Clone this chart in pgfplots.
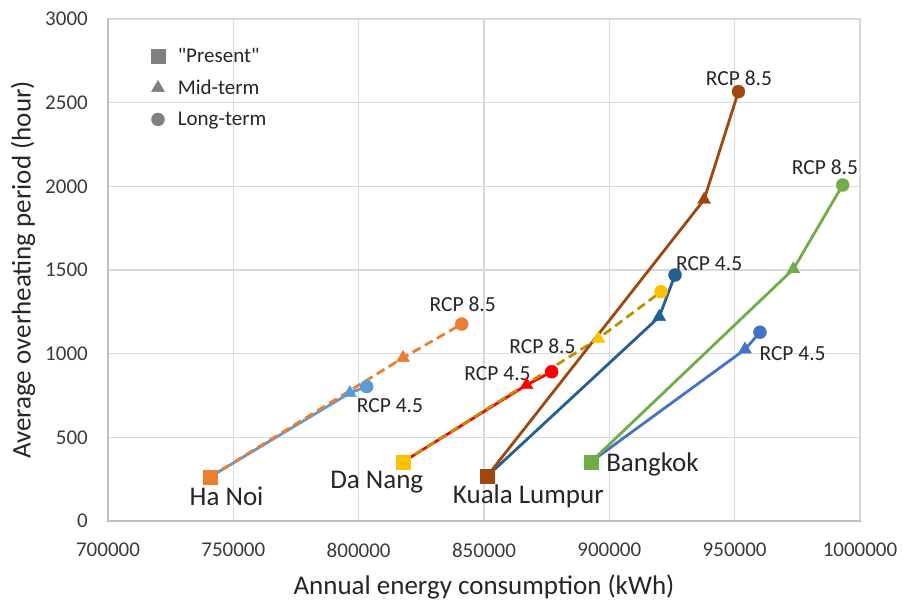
\documentclass[border=0pt]{standalone}
\usepackage{fontspec}
\setmainfont{Carlito}[Ligatures=TeXOff]
\usepackage{pgfplots}
\pgfplotsset{compat=1.18}
\definecolor{hn}{HTML}{ED7D31}
\definecolor{hnb}{HTML}{5B9BD5}
\definecolor{dn}{HTML}{FFC000}
\definecolor{dnd}{HTML}{BF9000}
\definecolor{dnr}{HTML}{FF0000}
\definecolor{kl}{HTML}{9E480E}
\definecolor{klb}{HTML}{255E91}
\definecolor{bk}{HTML}{70AD47}
\definecolor{bkb}{HTML}{4472C4}
\definecolor{gridc}{HTML}{D9D9D9}
\definecolor{axc}{HTML}{BFBFBF}
\definecolor{leg}{HTML}{7F7F7F}
\definecolor{txt}{HTML}{262626}
\definecolor{tick}{HTML}{3A3A3A}
\newcommand{\fs}[1]{\fontsize{#1}{#1}\selectfont}
\begin{document}
\begin{tikzpicture}
\begin{axis}[
  scale only axis, width=752pt, height=502pt,
  xmin=700000, xmax=1000000, ymin=0, ymax=3000,
  xtick={700000,750000,800000,850000,900000,950000,1000000},
  ytick={0,500,1000,1500,2000,2500,3000},
  scaled x ticks=false, scaled y ticks=false,
  /pgf/number format/.cd, fixed, precision=0, 1000 sep={}, assume math mode=true, /pgfplots/.cd,
  major tick length=0pt,
  grid=major, major grid style={draw=gridc, line width=1.6pt},
  axis line style={draw=gridc, line width=1.6pt},
  xticklabel style={font=\fs{21}, text=tick, inner sep=0pt, anchor=north, yshift=-22pt},
  yticklabel style={font=\fs{21}, text=tick, inner sep=0pt, anchor=east, xshift=-20pt},
  xlabel={Annual energy consumption (kWh)},
  ylabel={Average overheating period (hour)},
  xlabel style={font=\fs{27}, text=txt, at={(axis description cs:0.5,-0.1315)}, anchor=center},
  ylabel style={font=\fs{27}, text=txt, at={(axis description cs:-0.113,0.5)}, anchor=center},
  legend style={draw=none, fill=none, at={(rel axis cs:0,1)}, anchor=north west,
    xshift=43pt, yshift=-27pt, font=\fs{21}, row sep=12pt, column sep=11pt,
    inner sep=0pt, nodes={inner sep=2pt, text=txt}},
  legend cell align=left,
  legend image code/.code={\draw[#1] plot coordinates {(0pt,0pt)};},
  clip=false,
]
\coordinate (sw) at (rel axis cs:0,0);
\coordinate (ne) at (rel axis cs:1,1);
\draw[axc, line width=2.4pt, line cap=rect] (rel axis cs:0,1) -- (rel axis cs:0,0) -- (rel axis cs:1,0);

\addlegendimage{only marks, mark=square*, mark size=6.8pt, leg}
\addlegendentry{"Present"}
\addlegendimage{only marks, mark=triangle*, mark size=7.5pt, leg}
\addlegendentry{Mid-term}
\addlegendimage{only marks, mark=*, mark size=6.5pt, leg}
\addlegendentry{Long-term}

% ---------- Ha Noi ----------
\addplot[forget plot, hnb, line width=2.8pt, mark=none] coordinates {(740700,263) (796500,765) (803200,803)};
\addplot[forget plot, only marks, hnb, mark=triangle*, mark size=7.5pt] coordinates {(796500,765)};
\addplot[forget plot, only marks, hnb, mark=*, mark size=6.5pt] coordinates {(803200,803)};
\addplot[forget plot, hn, line width=2.8pt, dash pattern=on 9pt off 5pt, mark=none] coordinates {(740700,263) (817700,975) (841100,1177)};
\addplot[forget plot, only marks, hn, mark=triangle*, mark size=7.5pt] coordinates {(817700,975)};
\addplot[forget plot, only marks, hn, mark=*, mark size=6.5pt] coordinates {(841100,1177)};
\addplot[forget plot, only marks, hn, mark=square*, mark size=7pt] coordinates {(740700,263)};

% ---------- Da Nang ----------
\addplot[forget plot, dnr, line width=2.8pt, mark=none] coordinates {(817700,353) (867000,813) (877000,892)};
\addplot[forget plot, only marks, dnr, mark=triangle*, mark size=7.5pt] coordinates {(867000,813)};
\addplot[forget plot, only marks, dnr, mark=*, mark size=6.5pt] coordinates {(877000,892)};
\addplot[forget plot, dnd, line width=2.8pt, dash pattern=on 9pt off 5pt, mark=none] coordinates {(817700,353) (895600,1090) (920600,1370)};
\addplot[forget plot, only marks, dn, mark=triangle*, mark size=7.5pt] coordinates {(895600,1090)};
\addplot[forget plot, only marks, dn, mark=*, mark size=6.5pt] coordinates {(920600,1370)};
\addplot[forget plot, only marks, dn, mark=square*, mark size=7pt] coordinates {(817700,353)};

% ---------- Kuala Lumpur ----------
\addplot[forget plot, klb, line width=2.8pt, mark=none] coordinates {(851100,265) (919900,1220) (926200,1470)};
\addplot[forget plot, only marks, klb, mark=triangle*, mark size=7.5pt] coordinates {(919900,1220)};
\addplot[forget plot, only marks, klb, mark=*, mark size=6.5pt] coordinates {(926200,1470)};
\addplot[forget plot, kl, line width=2.8pt, mark=none] coordinates {(851100,265) (937800,1920) (951500,2566)};
\addplot[forget plot, only marks, kl, mark=triangle*, mark size=7.5pt] coordinates {(937800,1920)};
\addplot[forget plot, only marks, kl, mark=*, mark size=6.5pt] coordinates {(951500,2566)};
\addplot[forget plot, only marks, kl, mark=square*, mark size=7pt] coordinates {(851100,265)};

% ---------- Bangkok ----------
\addplot[forget plot, bkb, line width=2.8pt, mark=none] coordinates {(892700,354) (954100,1025) (960100,1128)};
\addplot[forget plot, only marks, bkb, mark=triangle*, mark size=7.5pt] coordinates {(954100,1025)};
\addplot[forget plot, only marks, bkb, mark=*, mark size=6.5pt] coordinates {(960100,1128)};
\addplot[forget plot, bk, line width=2.8pt, mark=none] coordinates {(892700,354) (973400,1505) (993100,2008)};
\addplot[forget plot, only marks, bk, mark=triangle*, mark size=7.5pt] coordinates {(973400,1505)};
\addplot[forget plot, only marks, bk, mark=*, mark size=6.5pt] coordinates {(993100,2008)};
\addplot[forget plot, only marks, bk, mark=square*, mark size=7pt] coordinates {(892700,354)};

% ---------- labels ----------
\node[font=\fs{27}, text=txt] at (axis cs:747300,147) {Ha Noi};
\node[font=\fs{27}, text=txt] at (axis cs:807200,233) {Da Nang};
\node[font=\fs{27}, text=txt] at (axis cs:867700,145) {Kuala Lumpur};
\node[font=\fs{27}, text=txt] at (axis cs:917200,335) {Bangkok};
\node[font=\fs{21.5}, text=txt] at (axis cs:841500,1297) {RCP 8.5};
\node[font=\fs{21.5}, text=txt] at (axis cs:812500,687) {RCP 4.5};
\node[font=\fs{21.5}, text=txt] at (axis cs:873300,1046) {RCP 8.5};
\node[font=\fs{21.5}, text=txt] at (axis cs:855400,878) {RCP 4.5};
\node[font=\fs{21.5}, text=txt] at (axis cs:939800,1536) {RCP 4.5};
\node[font=\fs{21.5}, text=txt] at (axis cs:951700,2646) {RCP 8.5};
\node[font=\fs{21.5}, text=txt] at (axis cs:986000,2112) {RCP 8.5};
\node[font=\fs{21.5}, text=txt] at (axis cs:973100,998) {RCP 4.5};
\end{axis}
\pgfresetboundingbox
\path[use as bounding box] ([shift={(-108pt,-82pt)}]sw) rectangle ([shift={(43pt,19pt)}]ne);
\end{tikzpicture}
\end{document}
